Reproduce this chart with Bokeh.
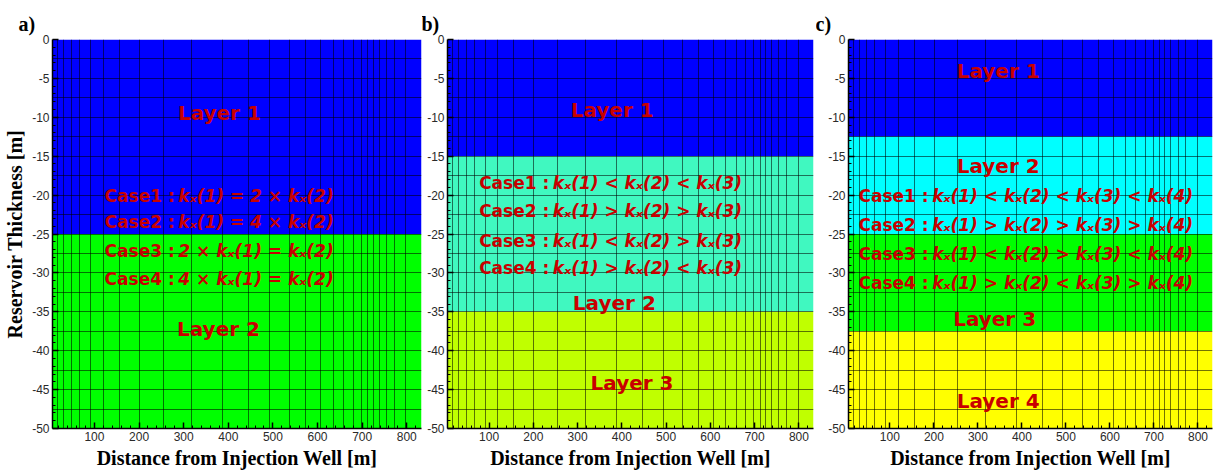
from bokeh.plotting import figure
from bokeh.layouts import row
from bokeh.models import FixedTicker, Title
from bokeh.core.properties import value
from bokeh.embed import file_html
from bokeh.resources import INLINE

# ---------------- data ----------------
x_major_ticks = [100, 200, 300, 400, 500, 600, 700, 800]
x_tick_labels = ["100", "200", "300", "400", "500", "600", "700", "800"]
x_minor_ticks = [20, 40, 60, 80, 120, 140, 160, 180, 220, 240, 260, 280, 320, 340, 360, 380,
                 420, 440, 460, 480, 520, 540, 560, 580, 620, 640, 660, 680, 720, 740, 760, 780,
                 820]
y_major_ticks = [0, -5, -10, -15, -20, -25, -30, -35, -40, -45, -50]
y_tick_labels = ["0", "-5", "-10", "-15", "-20", "-25", "-30", "-35", "-40", "-45", "-50"]
y_minor_ticks = [-1, -2, -3, -4, -6, -7, -8, -9, -11, -12, -13, -14, -16, -17, -18, -19,
                 -21, -22, -23, -24, -26, -27, -28, -29, -31, -32, -33, -34, -36, -37, -38, -39,
                 -41, -42, -43, -44, -46, -47, -48, -49]

# grid cell boundaries of the simulation mesh (m)
mesh_x = [18, 31, 48, 66, 91, 120, 156, 201, 254, 318, 387, 446, 493, 537, 573, 607, 635,
          659, 680, 698, 713, 725, 738, 755, 772, 798]
mesh_y = [-2.5, -5, -7.5, -10, -12.5, -15, -17.5, -20, -22.5, -25, -27.5, -30, -32.5, -35,
          -37.5, -40, -42.5, -45, -47.5]

# layers: top, bottom, colour
a_layer_top = [0, -25]
a_layer_bottom = [-25, -50]
a_layer_color = ["#0000FF", "#00FF00"]

b_layer_top = [0, -15, -35]
b_layer_bottom = [-15, -35, -50]
b_layer_color = ["#0000FF", "#40F8C0", "#C0FF00"]

c_layer_top = [0, -12.5, -25, -37.5]
c_layer_bottom = [-12.5, -25, -37.5, -50]
c_layer_color = ["#0000FF", "#00FFFF", "#00FF00", "#FFFF00"]

# layer names and their positions
a_layer_names = ["Layer 1", "Layer 2"]
a_layer_x = [380, 378]
a_layer_y = [-9.5, -37.2]

b_layer_names = ["Layer 1", "Layer 2", "Layer 3"]
b_layer_x = [378, 383, 423]
b_layer_y = [-9.1, -33.9, -44.1]

c_layer_names = ["Layer 1", "Layer 2", "Layer 3", "Layer 4"]
c_layer_x = [346, 346, 338, 346]
c_layer_y = [-4.1, -16.2, -35.9, -46.5]

case_names = ["Case1 :", "Case2 :", "Case3 :", "Case4 :"]
a_case_exprs = ["kₓ(1) = 2 × kₓ(2)", "kₓ(1) = 4 × kₓ(2)",
                "2 × kₓ(1) = kₓ(2)", "4 × kₓ(1) = kₓ(2)"]
a_case_y = [-20.1, -23.5, -27.2, -30.8]
b_case_exprs = ["kₓ(1) < kₓ(2) < kₓ(3)", "kₓ(1) > kₓ(2) > kₓ(3)",
                "kₓ(1) < kₓ(2) > kₓ(3)", "kₓ(1) > kₓ(2) < kₓ(3)"]
b_case_y = [-18.4, -22.1, -25.9, -29.4]
c_case_exprs = ["kₓ(1) < kₓ(2) < kₓ(3) < kₓ(4)", "kₓ(1) > kₓ(2) > kₓ(3) > kₓ(4)",
                "kₓ(1) < kₓ(2) > kₓ(3) < kₓ(4)", "kₓ(1) > kₓ(2) < kₓ(3) > kₓ(4)"]
c_case_y = [-20.1, -23.9, -27.6, -31.3]

TEXT_RED = "#C80000"
SANS = "DejaVu Sans"
SERIF = "Liberation Serif"
H = 473


def make_panel(width, left, right, tag, tag_offset, layer_top, layer_bottom, layer_color,
               names, names_x, names_y, exprs, case_y, split_x, ylabel=None):
    p = figure(width=width, height=H, x_range=(6, 833), y_range=(-50, 0),
               output_backend="svg", toolbar_location=None,
               min_border_left=left, min_border_right=right,
               min_border_top=39, min_border_bottom=45)
    p.outline_line_color = None
    p.background_fill_color = "white"

    n = len(layer_top)
    p.quad(left=[6] * n, right=[833] * n, top=layer_top, bottom=layer_bottom,
           fill_color=layer_color, line_color=None, level="image")

    # mesh lines through the grid
    p.xgrid.ticker = FixedTicker(ticks=mesh_x)
    p.ygrid.ticker = FixedTicker(ticks=mesh_y)
    for g in (p.xgrid, p.ygrid):
        g.grid_line_color = "black"
        g.grid_line_alpha = 0.55
        g.grid_line_width = 1

    # axes
    p.xaxis.ticker = FixedTicker(ticks=x_major_ticks, minor_ticks=x_minor_ticks)
    p.yaxis.ticker = FixedTicker(ticks=y_major_ticks, minor_ticks=y_minor_ticks)
    p.xaxis.major_label_overrides = dict(zip(x_major_ticks, x_tick_labels))
    p.yaxis.major_label_overrides = dict(zip(y_major_ticks, y_tick_labels))
    for ax in (p.xaxis, p.yaxis):
        ax.axis_line_color = "black"
        ax.axis_line_width = 1.5
        ax.major_tick_in = 6
        ax.major_tick_out = 0
        ax.minor_tick_in = 3
        ax.minor_tick_out = 0
        ax.major_tick_line_color = "black"
        ax.major_tick_line_width = 1.5
        ax.minor_tick_line_color = "black"
        ax.major_label_text_font = "Liberation Sans"
        ax.major_label_text_font_size = "12px"
        ax.major_label_text_color = "#2a2a2a"
        ax.major_label_standoff = 3
        ax.axis_label_text_font = SERIF
        ax.axis_label_text_font_style = "bold"
        ax.axis_label_text_color = "black"
    p.xaxis.axis_label = "Distance from Injection Well [m]"
    p.xaxis.axis_label_text_font_size = "20px"
    p.xaxis.axis_label_standoff = 3
    if ylabel:
        p.yaxis.axis_label = ylabel
        p.yaxis.axis_label_text_font_size = "20px"
        p.yaxis.axis_label_standoff = 3

    # panel tag
    p.add_layout(Title(text=tag, align="left", offset=tag_offset, text_font=SERIF,
                       text_font_style="bold", text_font_size="20px", text_color="black"),
                 "above")

    # texts
    p.text(x=names_x, y=names_y, text=names, text_font=value(SANS), text_font_style="bold",
           text_font_size="20px", text_color=TEXT_RED, text_align="center",
           text_baseline="middle")
    k = len(case_names)
    p.text(x=[split_x - 4] * k, y=case_y, text=case_names, text_font=value(SANS),
           text_font_style="bold", text_font_size="17px", text_color=TEXT_RED,
           text_align="right", text_baseline="middle")
    p.text(x=[split_x + 4] * k, y=case_y, text=exprs, text_font=value(SANS),
           text_font_style="bold italic", text_font_size="17px", text_color=TEXT_RED,
           text_align="left", text_baseline="middle")
    return p


pa = make_panel(422, 52, 1, "a)", -34, a_layer_top, a_layer_bottom, a_layer_color,
                a_layer_names, a_layer_x, a_layer_y, a_case_exprs, a_case_y, 284,
                ylabel="Reservoir Thickness [m]")
pb = make_panel(394, 25, 3, "b)", -26, b_layer_top, b_layer_bottom, b_layer_color,
                b_layer_names, b_layer_x, b_layer_y, b_case_exprs, b_case_y, 240)
pc = make_panel(405, 32, 9, "c)", -33, c_layer_top, c_layer_bottom, c_layer_color,
                c_layer_names, c_layer_x, c_layer_y, c_case_exprs, c_case_y, 192)

layout = row(pa, pb, pc)
open("out.html", "w").write(file_html(layout, INLINE))
